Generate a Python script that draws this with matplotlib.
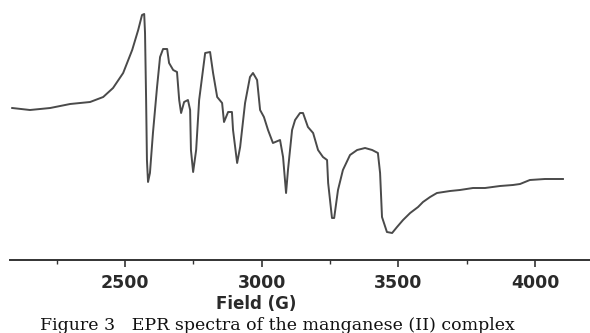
import numpy as np
import matplotlib.pyplot as plt
from matplotlib.ticker import MultipleLocator

# EPR spectrum (field in G, signal in arbitrary units)
field = [2087, 2152, 2226, 2299, 2372, 2420, 2456, 2493, 2526, 2548, 2562, 2570,
         2573, 2577, 2580, 2584, 2591, 2602, 2617, 2628, 2639, 2654, 2661, 2676,
         2690, 2698, 2705, 2716, 2730, 2738, 2741, 2749, 2760, 2771, 2793, 2811,
         2822, 2837, 2855, 2862, 2877, 2891, 2895, 2910, 2921, 2939, 2957, 2968,
         2983, 2994, 3008, 3023, 3041, 3067, 3078, 3089, 3096, 3111, 3122, 3140,
         3151, 3169, 3188, 3206, 3224, 3239, 3243, 3257, 3265, 3279, 3297, 3323,
         3349, 3378, 3404, 3425, 3433, 3440, 3458, 3477, 3495, 3517, 3543, 3572,
         3590, 3616, 3641, 3689, 3725, 3773, 3817, 3872, 3919, 3945, 3981, 4036,
         4102]
signal = [42, 40, 42, 46, 48, 53, 62, 77, 100, 120, 135, 136,
          117, 50, -10, -32, -23, 17, 63, 93, 101, 101, 87, 80,
          78, 50, 37, 48, 50, 40, 0, -22, 0, 50, 97, 98,
          77, 53, 47, 28, 38, 38, 20, -13, 3, 47, 73, 77,
          70, 40, 33, 20, 7, 10, -7, -43, -20, 20, 30, 37,
          37, 23, 17, 0, -7, -10, -33, -68, -68, -40, -20, -5,
          0, 2, 0, -3, -23, -67, -82, -83, -77, -70, -63, -57,
          -52, -47, -43, -41, -40, -38, -38, -36, -35, -34, -30, -29,
          -29]

xticks = [2500, 3000, 3500, 4000]

fig = plt.figure(figsize=(5.9, 3.33), dpi=100)
ax = fig.add_axes([10 / 590, 1 - 260 / 333, 580 / 590, 260 / 333])

ax.plot(field, signal, color='#4a4a4a', linewidth=1.4)

ax.set_xlim(2079, 4201)
ax.set_ylim(-110, 150)
ax.set_xticks(xticks)
ax.xaxis.set_minor_locator(MultipleLocator(250))
ax.set_yticks([])
for side in ['top', 'right', 'left']:
    ax.spines[side].set_visible(False)
ax.spines['bottom'].set_color('#333333')
ax.spines['bottom'].set_linewidth(1.4)
ax.tick_params(axis='x', which='major', direction='out', length=5, width=1.2,
               color='#333333', labelsize=12.5, pad=5, labelcolor='#2a2a2a')
ax.tick_params(axis='x', which='minor', direction='out', length=3, width=1.0,
               color='#333333')
for lbl in ax.get_xticklabels():
    lbl.set_fontweight('bold')

fig.text(256 / 590, 1 - 304 / 333, 'Field (G)', ha='center', va='center',
         fontsize=12, fontweight='bold', family='DejaVu Sans', color='#2a2a2a')
fig.text(277 / 590, 1 - 325 / 333,
         'Figure 3   EPR spectra of the manganese (II) complex',
         ha='center', va='center', fontsize=12.5, family='DejaVu Serif',
         color='#111111')

fig.savefig('out.png', dpi=100)
